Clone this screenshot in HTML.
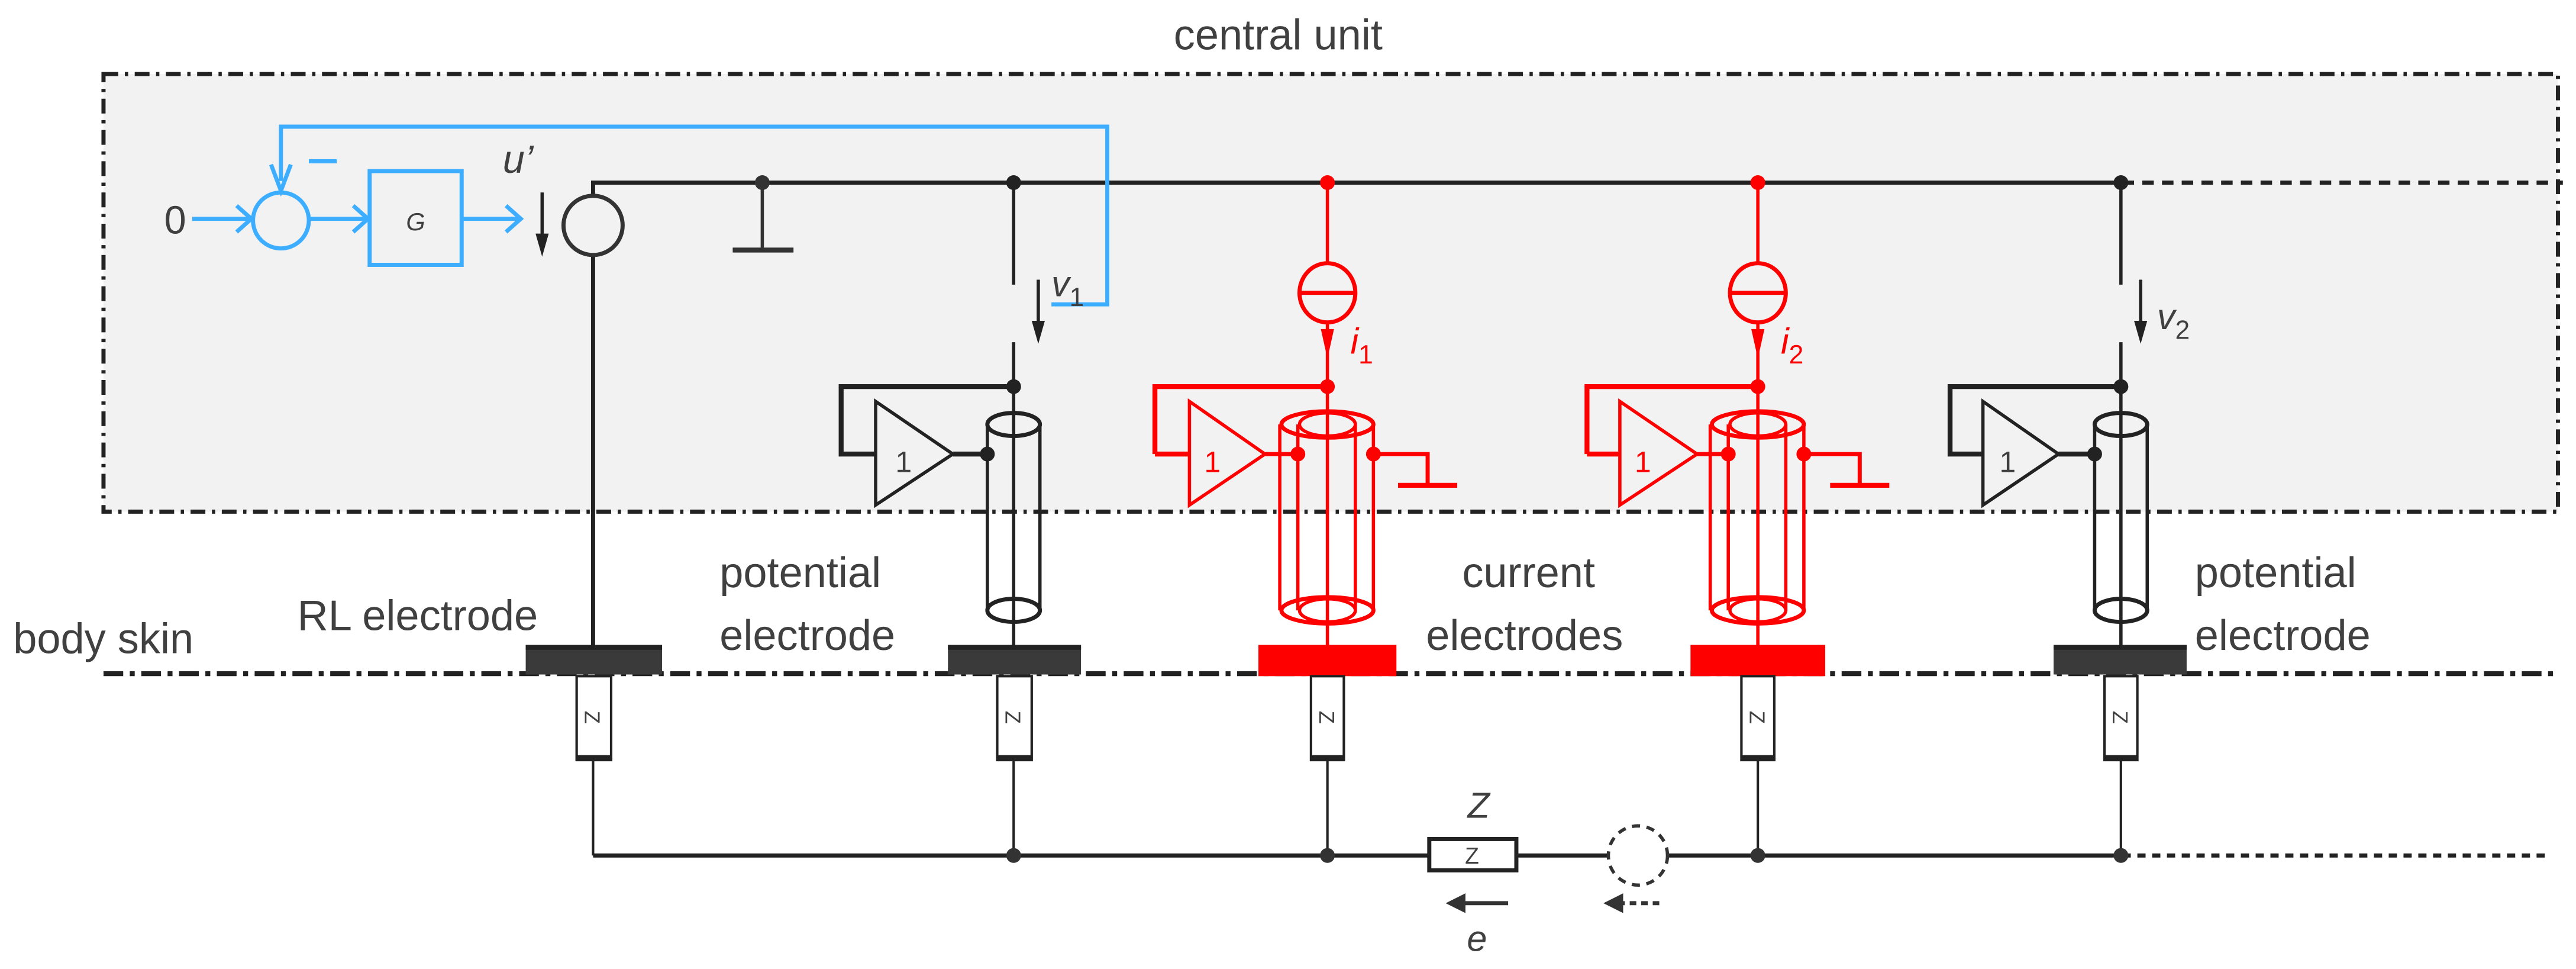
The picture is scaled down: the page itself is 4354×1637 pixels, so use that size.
<!DOCTYPE html>
<html><head><meta charset="utf-8"><style>
html,body{margin:0;padding:0;background:#fff;}
svg{display:block;}
text{font-family:"Liberation Sans",sans-serif;fill:#404040;}
</style></head><body>
<svg width="4354" height="1637" viewBox="0 0 1568 589" preserveAspectRatio="none" xmlns="http://www.w3.org/2000/svg">
<text x="778" y="30" font-size="26" text-anchor="middle">central unit</text>
<rect x="63" y="45" width="1494" height="266" fill="#f2f2f2" stroke="#222" stroke-width="2.5" stroke-dasharray="9 4 2 4"/>

<!-- top bus -->
<polyline points="361,392 361,111 1292,111" fill="none" stroke="#222" stroke-width="2.5"/>
<line x1="1292" y1="111" x2="1560" y2="111" stroke="#222" stroke-width="2.5" stroke-dasharray="7 5"/>

<!-- blue control -->
<g stroke="#3daeff" fill="none" stroke-width="2.5">
<line x1="117" y1="133" x2="152" y2="133"/><polyline points="144,125 153,133 144,141"/>
<circle cx="171" cy="134" r="17"/>
<line x1="188" y1="133" x2="223" y2="133"/><polyline points="215,125 224,133 215,141"/>
<rect x="225" y="104" width="56" height="57"/>
<line x1="281" y1="133" x2="316" y2="133"/><polyline points="308,125 317,133 308,141"/>
<polyline points="171,110 171,77 674,77 674,185 640,185"/>
<polyline points="165,100 171,116 177,100"/>
<line x1="188" y1="98" x2="205" y2="98"/>
</g>
<text x="100" y="142" font-size="24">0</text>
<text x="253" y="140" font-size="15" font-style="italic" text-anchor="middle">G</text>
<text x="306" y="105" font-size="24" font-style="italic">u’</text>
<line x1="330" y1="117" x2="330" y2="145" stroke="#222" stroke-width="2"/><path d="M326,142 L330,156 L334,142 Z" fill="#222"/>
<circle cx="361" cy="137" r="18" fill="#f2f2f2" stroke="#333" stroke-width="2.5"/>
<!-- ground -->
<line x1="464" y1="111" x2="464" y2="152" stroke="#333" stroke-width="2"/>
<line x1="446" y1="152" x2="483" y2="152" stroke="#333" stroke-width="3"/>
<circle cx="464" cy="111" r="4.5" fill="#333"/>

<g stroke="#222" fill="none" stroke-width="2">
<line x1="617" y1="111" x2="617" y2="173"/>
<line x1="617" y1="208" x2="617" y2="392"/>
<line x1="632" y1="170" x2="632" y2="198"/>
<polyline points="617,235 512,235 512,276 533,276" stroke-width="3"/>
<polygon points="533,244 580,276 533,307"/>
<line x1="580" y1="276" x2="601" y2="276" stroke-width="3"/>
<line x1="601" y1="258" x2="601" y2="371"/><line x1="633" y1="258" x2="633" y2="371"/>
<ellipse cx="617" cy="258" rx="16" ry="7" stroke-width="2.5"/>
<ellipse cx="617" cy="371" rx="16" ry="7" stroke-width="2.5"/>
</g>
<path d="M628,195 L632,209 L636,195 Z" fill="#222"/>
<circle cx="617" cy="111" r="4.5" fill="#222"/><circle cx="617" cy="235" r="4.5" fill="#222"/><circle cx="601" cy="276" r="4.5" fill="#222"/>
<text x="545" y="287" font-size="18">1</text>
<text x="640" y="180" font-size="22" font-style="italic">v<tspan font-size="16" dy="6" font-style="normal">1</tspan></text>

<g stroke="#222" fill="none" stroke-width="2">
<line x1="1291" y1="111" x2="1291" y2="173"/>
<line x1="1291" y1="208" x2="1291" y2="392"/>
<line x1="1303" y1="170" x2="1303" y2="198"/>
<polyline points="1291,235 1187,235 1187,276 1207,276" stroke-width="3"/>
<polygon points="1207,244 1253,276 1207,307"/>
<line x1="1253" y1="276" x2="1275" y2="276" stroke-width="3"/>
<line x1="1275" y1="258" x2="1275" y2="371"/><line x1="1307" y1="258" x2="1307" y2="371"/>
<ellipse cx="1291" cy="258" rx="16" ry="7" stroke-width="2.5"/>
<ellipse cx="1291" cy="371" rx="16" ry="7" stroke-width="2.5"/>
</g>
<path d="M1299,195 L1303,209 L1307,195 Z" fill="#222"/>
<circle cx="1291" cy="111" r="4.5" fill="#222"/><circle cx="1291" cy="235" r="4.5" fill="#222"/><circle cx="1275" cy="276" r="4.5" fill="#222"/>
<text x="1217" y="287" font-size="18">1</text>
<text x="1313" y="200" font-size="22" font-style="italic">v<tspan font-size="16" dy="6" font-style="normal">2</tspan></text>

<!-- red branches -->
<g stroke="#ff0000" fill="none" stroke-width="2">
<line x1="808" y1="111" x2="808" y2="392"/>
<ellipse cx="808" cy="178" rx="17" ry="18" fill="#f2f2f2" stroke-width="2.5"/><line x1="791" y1="178" x2="825" y2="178" stroke-width="2.5"/>
<polyline points="703,276 703,235 808,235" stroke-width="3"/><line x1="703" y1="276" x2="724" y2="276" stroke-width="3"/>
<polygon points="724,244 770,276 724,307"/><line x1="770" y1="276" x2="790" y2="276" stroke-width="2.5"/>
<line x1="779" y1="258" x2="779" y2="371"/><line x1="790" y1="258" x2="790" y2="371"/><line x1="825" y1="258" x2="825" y2="371"/><line x1="836" y1="258" x2="836" y2="371"/>
<ellipse cx="808" cy="258" rx="28" ry="8" stroke-width="2.5"/><ellipse cx="808" cy="258" rx="17" ry="7"/>
<ellipse cx="808" cy="371" rx="28" ry="8" stroke-width="2.5"/><ellipse cx="808" cy="371" rx="17" ry="7"/>
<polyline points="836,276 869,276 869,295" stroke-width="2.5"/><line x1="851" y1="295" x2="887" y2="295" stroke-width="3"/>

<line x1="1070" y1="111" x2="1070" y2="392"/>
<ellipse cx="1070" cy="178" rx="17" ry="18" fill="#f2f2f2" stroke-width="2.5"/><line x1="1053" y1="178" x2="1087" y2="178" stroke-width="2.5"/>
<polyline points="966,276 966,235 1070,235" stroke-width="3"/><line x1="966" y1="276" x2="986" y2="276" stroke-width="3"/>
<polygon points="986,244 1033,276 986,307"/><line x1="1033" y1="276" x2="1052" y2="276" stroke-width="2.5"/>
<line x1="1041" y1="258" x2="1041" y2="371"/><line x1="1052" y1="258" x2="1052" y2="371"/><line x1="1087" y1="258" x2="1087" y2="371"/><line x1="1098" y1="258" x2="1098" y2="371"/>
<ellipse cx="1070" cy="258" rx="28" ry="8" stroke-width="2.5"/><ellipse cx="1070" cy="258" rx="17" ry="7"/>
<ellipse cx="1070" cy="371" rx="28" ry="8" stroke-width="2.5"/><ellipse cx="1070" cy="371" rx="17" ry="7"/>
<polyline points="1098,276 1132,276 1132,295" stroke-width="2.5"/><line x1="1114" y1="295" x2="1150" y2="295" stroke-width="3"/>
</g>
<g fill="#ff0000">
<path d="M804,200 L808,218 L812,200 Z"/><path d="M1066,200 L1070,218 L1074,200 Z"/>
<circle cx="808" cy="111" r="4.5"/><circle cx="808" cy="235" r="4.5"/><circle cx="790" cy="276" r="4.5"/><circle cx="836" cy="276" r="4.5"/>
<circle cx="1070" cy="111" r="4.5"/><circle cx="1070" cy="235" r="4.5"/><circle cx="1052" cy="276" r="4.5"/><circle cx="1098" cy="276" r="4.5"/>
</g>
<text x="733" y="287" font-size="18" style="fill:#ff0000">1</text>
<text x="995" y="287" font-size="18" style="fill:#ff0000">1</text>
<text x="822" y="215" font-size="22" font-style="italic" style="fill:#ff0000">i<tspan font-size="16" dy="6" font-style="normal">1</tspan></text>
<text x="1084" y="215" font-size="22" font-style="italic" style="fill:#ff0000">i<tspan font-size="16" dy="6" font-style="normal">2</tspan></text>

<!-- body skin line -->
<line x1="63" y1="409.5" x2="1557" y2="409.5" stroke="#222" stroke-width="3" stroke-dasharray="12 4 3 4"/>

<!-- electrodes -->
<g>
<rect x="320" y="392" width="83" height="18" fill="#3a3a3a"/><rect x="320" y="392" width="83" height="3" fill="#222"/>
<rect x="577" y="392" width="81" height="18" fill="#3a3a3a"/><rect x="577" y="392" width="81" height="3" fill="#222"/>
<rect x="1250" y="392" width="81" height="18" fill="#3a3a3a"/><rect x="1250" y="392" width="81" height="3" fill="#222"/>
<rect x="766" y="392" width="84" height="19" fill="#ff0000"/>
<rect x="1029" y="392" width="82" height="19" fill="#ff0000"/>
</g>

<!-- Z resistors -->
<g stroke="#222" stroke-width="1.5" fill="#fff">
<line x1="361" y1="460" x2="361" y2="520"/><line x1="617" y1="460" x2="617" y2="520"/><line x1="808" y1="460" x2="808" y2="520"/><line x1="1070" y1="460" x2="1070" y2="520"/><line x1="1291" y1="460" x2="1291" y2="520"/>
<rect x="351" y="411" width="21" height="51"/><rect x="607" y="411" width="21" height="51"/><rect x="798" y="411" width="20" height="51"/><rect x="1060" y="411" width="20" height="51"/><rect x="1281" y="411" width="20" height="51"/>
</g>
<g fill="#222"><rect x="351" y="459" width="21" height="3"/><rect x="607" y="459" width="21" height="3"/><rect x="798" y="459" width="20" height="3"/><rect x="1060" y="459" width="20" height="3"/><rect x="1281" y="459" width="20" height="3"/></g>
<g font-size="13">
<text transform="translate(356,436) rotate(90)" text-anchor="middle">Z</text>
<text transform="translate(612,436) rotate(90)" text-anchor="middle">Z</text>
<text transform="translate(803,436) rotate(90)" text-anchor="middle">Z</text>
<text transform="translate(1065,436) rotate(90)" text-anchor="middle">Z</text>
<text transform="translate(1286,436) rotate(90)" text-anchor="middle">Z</text>
</g>

<!-- bottom line -->
<line x1="361" y1="520" x2="1292" y2="520" stroke="#222" stroke-width="2.5"/>
<line x1="1292" y1="520" x2="1550" y2="520" stroke="#222" stroke-width="2.5" stroke-dasharray="5 4"/>
<g fill="#333"><circle cx="617" cy="520" r="4.5"/><circle cx="808" cy="520" r="4.5"/><circle cx="1070" cy="520" r="4.5"/><circle cx="1291" cy="520" r="4.5"/></g>
<rect x="870" y="510" width="53" height="19" fill="#fff" stroke="#222" stroke-width="2.5"/>
<text x="896" y="525" font-size="14" text-anchor="middle">Z</text>
<text x="900" y="497" font-size="22" font-style="italic" text-anchor="middle">Z</text>
<circle cx="997" cy="520" r="18" fill="#fff" stroke="#333" stroke-width="2" stroke-dasharray="5 4"/>
<line x1="888" y1="549" x2="918" y2="549" stroke="#333" stroke-width="2.5"/><path d="M880,549 L892,543 L892,555 Z" fill="#333"/>
<line x1="985" y1="549" x2="1010" y2="549" stroke="#333" stroke-width="2.5" stroke-dasharray="4 3"/><path d="M976,549 L988,543 L988,555 Z" fill="#333"/>
<text x="899" y="578" font-size="22" font-style="italic" text-anchor="middle">e</text>

<!-- labels -->
<g font-size="26">
<text x="8" y="397">body skin</text>
<text x="181" y="383">RL electrode</text>
<text x="438" y="357">potential</text>
<text x="438" y="395">electrode</text>
<text x="890" y="357">current</text>
<text x="868" y="395">electrodes</text>
<text x="1336" y="357">potential</text>
<text x="1336" y="395">electrode</text>
</g>
</svg>
</body></html>
